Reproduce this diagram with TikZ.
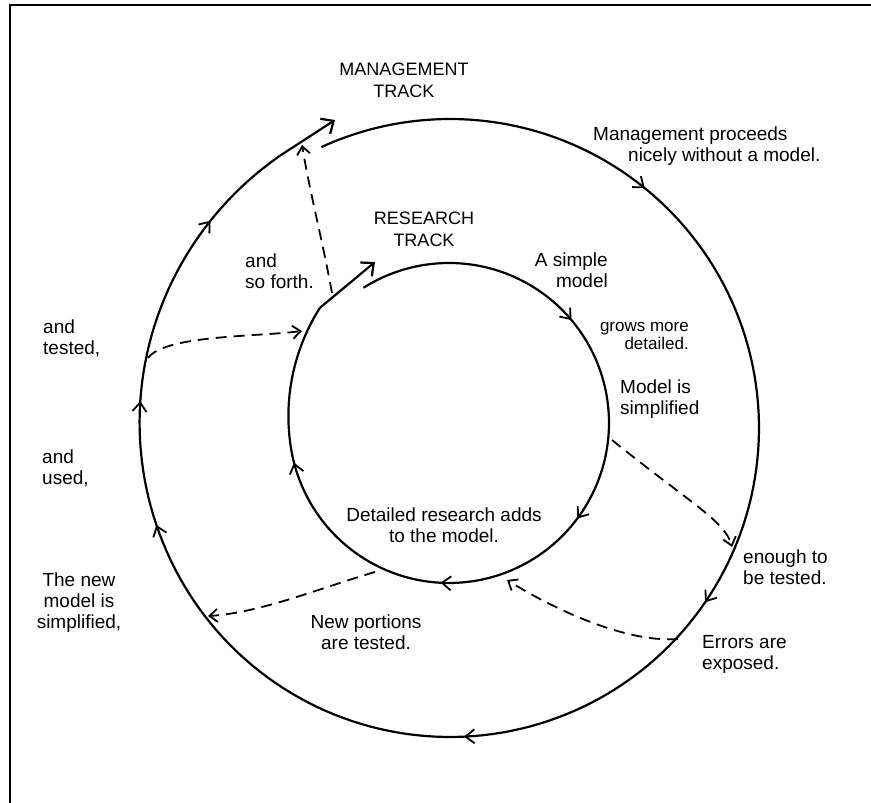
\documentclass[tikz,border=0pt]{standalone}
\usepackage{fontspec}
\setmainfont{Liberation Sans}
\usetikzlibrary{arrows.meta,decorations.markings,calc}
\begin{document}
\begin{tikzpicture}[x=1pt,y=1pt,
  mbarb/.tip={Straight Barb[length=9pt,width=14pt,line width=1.8pt]},
  track/.style={line width=2.2pt},
  tiparrow/.style={line width=2.2pt,-{Straight Barb[length=10pt,width=18pt,line width=2.2pt]}},
  link/.style={line width=1.8pt,dash pattern=on 11pt off 7pt,-{Straight Barb[length=8pt,width=13pt,line width=1.8pt]}},
  lbl/.style={inner sep=0pt,font=\fontsize{19}{21}\selectfont},
  small/.style={inner sep=0pt,font=\fontsize{17}{18}\selectfont},
  caps/.style={inner sep=0pt,font=\fontsize{18}{22}\selectfont,align=center}]
\useasboundingbox (0,0) rectangle (871,803);
% frame (cropped)
\draw[line width=2.8pt] (10,0) -- (10,798) -- (871,798);
% centres
\coordinate (OC) at (450,375);
\coordinate (IC) at (449,380);
% outer track (management)
\draw[track,postaction={decorate},decoration={markings,
   mark=at position 0.18 with {\arrow{mbarb}},
   mark=at position 0.421 with {\arrow{mbarb}},
   mark=at position 0.571 with {\arrow{mbarb}},
   mark=at position 0.781 with {\arrow{mbarb}},
   mark=at position 0.847 with {\arrow{mbarb}},
   mark=at position 0.95 with {\arrow{mbarb}}}]
  plot[domain=114.6:-238,samples=200,variable=\a]
  ({450+(309+12*max(0,-(\a+150)/88)*max(0,-(\a+150)/88))*cos(\a)},
   {375+(309+12*max(0,-(\a+150)/88)*max(0,-(\a+150)/88))*sin(\a)});
\coordinate (oEnd) at ({450+321*cos(-238)},{375+321*sin(-238)});
\coordinate (oTip) at (335,683);
\draw[tiparrow] (oEnd) -- (oTip);
% inner track (research)
\draw[track,postaction={decorate},decoration={markings,
   mark=at position 0.238 with {\arrow{mbarb}},
   mark=at position 0.46 with {\arrow{mbarb}},
   mark=at position 0.623 with {\arrow{mbarb}},
   mark=at position 0.833 with {\arrow{mbarb}}}]
  plot[domain=122.3:-221.7,samples=200,variable=\a]
  ({449+(160+13*max(0,-(\a+170)/51.7)*max(0,-(\a+170)/51.7))*cos(\a)},
   {380+(160+13*max(0,-(\a+170)/51.7)*max(0,-(\a+170)/51.7))*sin(\a)});
\coordinate (iEnd) at ({449+173*cos(-221.7)},{380+173*sin(-221.7)});
\coordinate (iTip) at (375,541);
\draw[tiparrow] (iEnd) -- (iTip);
% dashed connectors
\coordinate (a1) at (612,363); \coordinate (a2) at (732,256);
\draw[link] (a1) .. controls (690,300) and (725,282) .. (a2);
\coordinate (b1) at (678,164); \coordinate (b2) at (507,223);
\draw[link] (b1) .. controls (630,160) and (560,190) .. (b2);
\coordinate (c1) at (375,231); \coordinate (c2) at (208,187);
\draw[link] (c1) .. controls (320,215) and (260,190) .. (c2);
\coordinate (d1) at (148,445); \coordinate (d2) at (302,472);
\draw[link] (d1) .. controls (165,468) and (255,466) .. (d2);
\coordinate (e1) at (332,510); \coordinate (e2) at (302,658);
\draw[link] (e1) .. controls (323,560) and (310,610) .. (e2);
% labels
\node[caps,anchor=north] (mt) at (404,740) {MANAGEMENT\\TRACK};
\node[caps,anchor=north] (rt) at (424,591) {RESEARCH\\TRACK};
\node[lbl,anchor=north west,align=left] (mp) at (593,676) {Management proceeds\\\hspace*{35pt}nicely without a model.};
\node[lbl,anchor=north east,align=right] (sm) at (608,550) {A simple\\model};
\node[small,anchor=north east,align=right] (gd) at (689,481) {grows more\\detailed.};
\node[lbl,anchor=north west,align=left] (ms) at (620,423) {Model is\\simplified};
\node[lbl,anchor=north west,align=left] (et) at (743,253) {enough to\\be tested.};
\node[lbl,anchor=north west,align=left] (ee) at (702,168) {Errors are\\exposed.};
\node[lbl,anchor=north,align=center] (np) at (366,188) {New portions\\are tested.};
\node[lbl,anchor=north,align=center] (dr) at (444,295) {Detailed research adds\\to the model.};
\node[lbl,anchor=north west,align=left] (sf) at (245,549) {and\\so forth.};
\node[lbl,anchor=north west,align=left] (at) at (43,483) {and\\tested,};
\node[lbl,anchor=north west,align=left] (au) at (42,353) {and\\used,};
\node[lbl,anchor=north,align=center] (nm) at (79,230) {The new\\model is\\simplified,};
\end{tikzpicture}
\end{document}
